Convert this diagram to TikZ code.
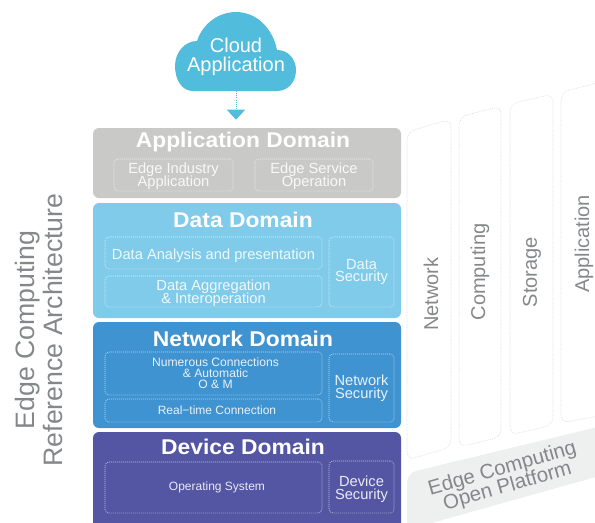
\documentclass[tikz,border=0pt]{standalone}
\usepackage{fontspec}
\setmainfont{Liberation Sans}
\newfontfamily\headfont[FakeStretch=1.07]{Liberation Sans Bold}
\usetikzlibrary{fit,arrows.meta}
\definecolor{appc}{HTML}{C9C9C7}
\definecolor{datac}{HTML}{80CBEA}
\definecolor{netc}{HTML}{3F93D0}
\definecolor{devc}{HTML}{5455A3}
\definecolor{cloudc}{HTML}{52BCDC}
\definecolor{bandc}{HTML}{EEF0F0}
\definecolor{graytxt}{HTML}{85888A}
\tikzset{
  domainbox/.style={inner sep=0pt,rounded corners=4.5pt},
  headtxt/.style={text=white,inner sep=0pt,font=\headfont\fontsize{16}{18}\selectfont},
  inbox/.style={inner sep=0pt,rounded corners=3pt,draw=white,dash pattern=on 0.5pt off 1pt,line width=0.5pt},
  intxt/.style={inner sep=0pt,align=center,text=white,text opacity=0.88},
  t11/.style={intxt,font=\fontsize{11}{9.7}\selectfont},
  t10/.style={intxt,xshift=2.6pt,font=\fontsize{9}{9.6}\selectfont},
  t9/.style={intxt,xshift=1.5pt,font=\fontsize{9.1}{8.2}\selectfont},
  colbox/.style={draw=black!15,dash pattern=on 0.6pt off 0.8pt,line width=0.45pt,rounded corners=6pt},
  grayside/.style={text=graytxt,inner sep=0pt,align=center,rotate=90},
}
\begin{document}
\begin{tikzpicture}[x=0.75pt,y=-0.75pt]
\lineskiplimit=-20pt
\clip (0,0) rectangle (595,522);
% platform band
\fill[bandc,rounded corners=7pt] (407,473) -- (610,424) -- (610,473) -- (407,530) -- cycle;
% columns
\draw[colbox] (407,132) -- (451,119) -- (451,447) -- (407,460) -- cycle;
\draw[colbox] (459,117) -- (501,106) -- (501,437) -- (459,447) -- cycle;
\draw[colbox] (510,104) -- (553,94) -- (553,425) -- (510,435) -- cycle;
\draw[colbox] (561,92) -- (610,80) -- (610,414) -- (561,423) -- cycle;
\node[grayside,font=\fontsize{15}{17}\selectfont] (cnet) at (431,294) {Network};
\node[grayside,font=\fontsize{15}{17}\selectfont] (ccomp) at (480,272) {Computing};
\node[grayside,font=\fontsize{15}{17}\selectfont] (cstor) at (532,272) {Storage};
\node[grayside,font=\fontsize{15}{17}\selectfont] (capp) at (584,244) {Application};
\node[text=graytxt,inner sep=0pt,align=center,rotate=16,font=\fontsize{15.4}{14}\selectfont] (plat) at (505,478) {Edge Computing\\Open Platform};
% left title
\node[grayside,font=\fontsize{20}{20.5}\selectfont] (title) at (39,330) {Edge Computing\\Reference Architecture};
% cloud
\fill[cloudc] (193,91) .. controls (182,91) and (175,80) .. (175,66)
  .. controls (175,52) and (185,41) .. (197,41)
  .. controls (203,23) and (219,12) .. (236,12)
  .. controls (257,12) and (273,29) .. (277,50)
  .. controls (288,50) and (296,59) .. (296,70)
  .. controls (296,82) and (288,91) .. (277,91) -- cycle;
\node[text=white,inner sep=0pt,align=center,font=\fontsize{15}{14}\selectfont] (cloud) at (236,57) {Cloud\\Application};
\coordinate (cloudbase) at (236,91);
% domains
\node[domainbox,fill=appc,fit={(93,128)(401,198)}] (app) {};
\node[domainbox,fill=datac,fit={(93,203)(401,318)}] (data) {};
\node[domainbox,fill=netc,fit={(93,322)(401,428)}] (net) {};
\node[domainbox,fill=devc,fit={(93,432)(401,540)}] (dev) {};
\draw[cloudc,densely dotted,line width=0.6pt,shorten >=6pt,-{Triangle[width=13.5pt,length=7.5pt]}] (cloudbase) -- (cloudbase |- app.north);
\node[headtxt] (apph) at (243,142) {Application Domain};
\node[headtxt] (datah) at (243,220) {Data Domain};
\node[headtxt] (neth) at (243,339) {Network Domain};
\node[headtxt] (devh) at (243,447) {Device Domain};
% application
\node[inbox,fit={(114,159)(233,191)}] (a1) {};
\node[t11,yshift=-1pt] (a1t) at (a1.center) {Edge Industry\\Application};
\node[inbox,fit={(255,159)(373,191)}] (a2) {};
\node[t11,yshift=-1pt] (a2t) at (a2.center) {Edge Service\\Operation};
% data
\node[inbox,fit={(105,237)(322,269)}] (d1) {};
\node[t11,yshift=-1.8pt] (d1t) at (d1.center) {Data Analysis and presentation};
\node[inbox,fit={(105,276)(322,307)}] (d2) {};
\node[t11,yshift=-1.5pt] (d2t) at (d2.center) {Data Aggregation\\\&\ Interoperation};
\node[inbox,fit={(329,237)(394,307)}] (d3) {};
\node[t11] (d3t) at (d3.center) {Data\\Security};
% network
\node[inbox,fit={(105,352)(322,395)}] (n1) {};
\node[t9] (n1t) at (n1.center) {Numerous Connections\\\&\ Automatic\\O \&\ M};
\node[inbox,fit={(105,399)(322,422)}] (n2) {};
\node[t10] (n2t) at (n2.center) {Real−time Connection};
\node[inbox,fit={(329,354)(394,422)}] (n3) {};
\node[t11] (n3t) at (n3.center) {Network\\Security};
% device
\node[inbox,fit={(105,462)(322,513)}] (v1) {};
\node[t10] (v1t) at (v1.center) {Operating System};
\node[inbox,fit={(329,461)(394,513)}] (v2) {};
\node[t11,yshift=-1.8pt] (v2t) at (v2.center) {Device\\Security};
\end{tikzpicture}
\end{document}
